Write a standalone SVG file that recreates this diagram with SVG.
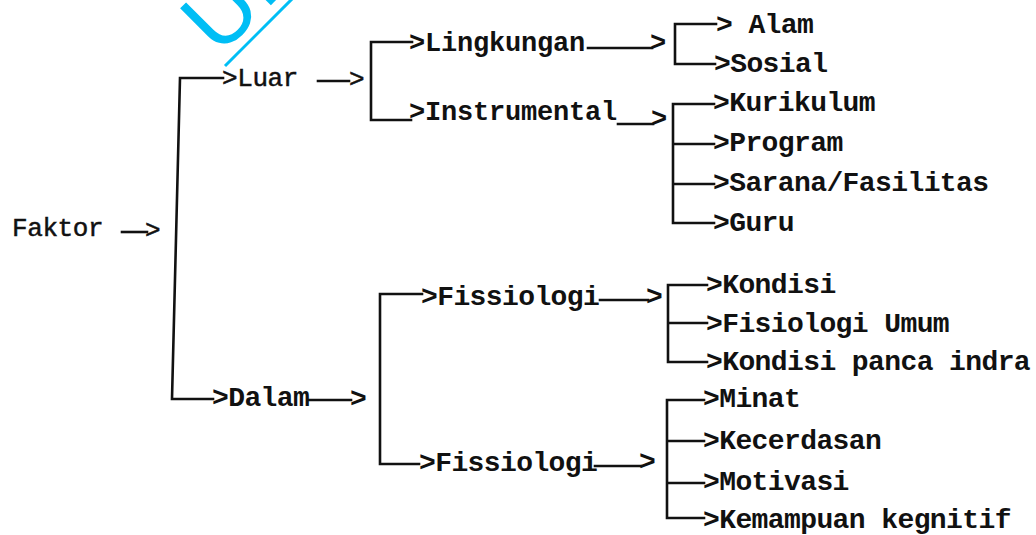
<svg xmlns="http://www.w3.org/2000/svg" width="1036" height="535" viewBox="0 0 1036 535">
<style>
.t{font-family:"Liberation Mono","Courier New",monospace;font-size:28px;font-weight:bold;letter-spacing:-0.6px;fill:#111}
.tl{font-family:"Liberation Mono","Courier New",monospace;font-size:26px;font-weight:normal;letter-spacing:-0.4px;fill:#111;stroke:#111;stroke-width:0.5}
.tm{font-family:"Liberation Mono","Courier New",monospace;font-size:27px;font-weight:bold;letter-spacing:-0.2px;fill:#111}
.c{fill:none;stroke:#111;stroke-width:2.6;stroke-linecap:square;stroke-linejoin:miter}
.wm{font-family:"Liberation Sans",Arial,sans-serif;font-size:90px;fill:#00BEF5}
</style>
<rect width="1036" height="535" fill="#ffffff"/>
<g id="watermark">
<text class="wm" transform="translate(219,57) rotate(-45)">UI</text>
<line x1="225" y1="66" x2="293" y2="-2" stroke="#00BEF5" stroke-width="3"/>
</g>
<g id="connectors">
<path class="c" d="M122,232 H147"/>
<path class="c" d="M223,78 H180 L172,399 H213"/>
<path class="c" d="M318,81 H349"/>
<path class="c" d="M412,42 H371 V120 H411"/>
<path class="c" d="M588,48 H652"/>
<path class="c" d="M618,124 H653"/>
<path class="c" d="M716,24 H675 V64 H715"/>
<path class="c" d="M714,104 H673 V223 H714 M673,144 H714 M673,184 H714"/>
<path class="c" d="M309,400 H351"/>
<path class="c" d="M422,294 H380 V464 H419"/>
<path class="c" d="M600,300 H648"/>
<path class="c" d="M595,466 H641"/>
<path class="c" d="M707,285 H668 V362 H707 M668,323 H707"/>
<path class="c" d="M704,400 H667 V518 H704 M667,441 H704 M667,483 H704"/>
</g>
<g id="faktor"><text class="tl" x="12" y="236">Faktor</text><text class="tl" x="145" y="238">&gt;</text></g>
<g id="luar"><text class="tl" x="222" y="86">&gt;Luar</text><text class="tl" x="349" y="87">&gt;</text></g>
<g id="lingkungan"><text class="tm" x="409" y="51">&gt;Lingkungan</text><text class="tm" x="650" y="51">&gt;</text></g>
<g id="instrumental"><text class="tm" x="409" y="120">&gt;Instrumental</text><text class="tm" x="651" y="127">&gt;</text></g>
<g id="alam"><text class="t" x="716" y="33" xml:space="preserve">&gt; Alam</text></g>
<g id="sosial"><text class="t" x="714" y="72">&gt;Sosial</text></g>
<g id="kurikulum"><text class="t" x="713" y="111">&gt;Kurikulum</text></g>
<g id="program"><text class="t" x="713" y="151">&gt;Program</text></g>
<g id="sarana"><text class="t" x="713" y="191">&gt;Sarana/Fasilitas</text></g>
<g id="guru"><text class="t" x="713" y="231">&gt;Guru</text></g>
<g id="dalam"><text class="t" x="212" y="406">&gt;Dalam</text><text class="t" x="350" y="407">&gt;</text></g>
<g id="fissiologi1"><text class="t" x="421" y="305">&gt;Fissiologi</text><text class="t" x="646" y="305">&gt;</text></g>
<g id="fissiologi2"><text class="t" x="419" y="471">&gt;Fissiologi</text><text class="t" x="639" y="470">&gt;</text></g>
<g id="kondisi"><text class="t" x="706" y="293">&gt;Kondisi</text></g>
<g id="fisiologi-umum"><text class="t" x="706" y="332">&gt;Fisiologi Umum</text></g>
<g id="kondisi-panca"><text class="t" x="706" y="370">&gt;Kondisi panca indra</text></g>
<g id="minat"><text class="t" x="703" y="407">&gt;Minat</text></g>
<g id="kecerdasan"><text class="t" x="703" y="449">&gt;Kecerdasan</text></g>
<g id="motivasi"><text class="t" x="703" y="490">&gt;Motivasi</text></g>
<g id="kemampuan"><text class="t" x="703" y="528">&gt;Kemampuan kegnitif</text></g>
</svg>
